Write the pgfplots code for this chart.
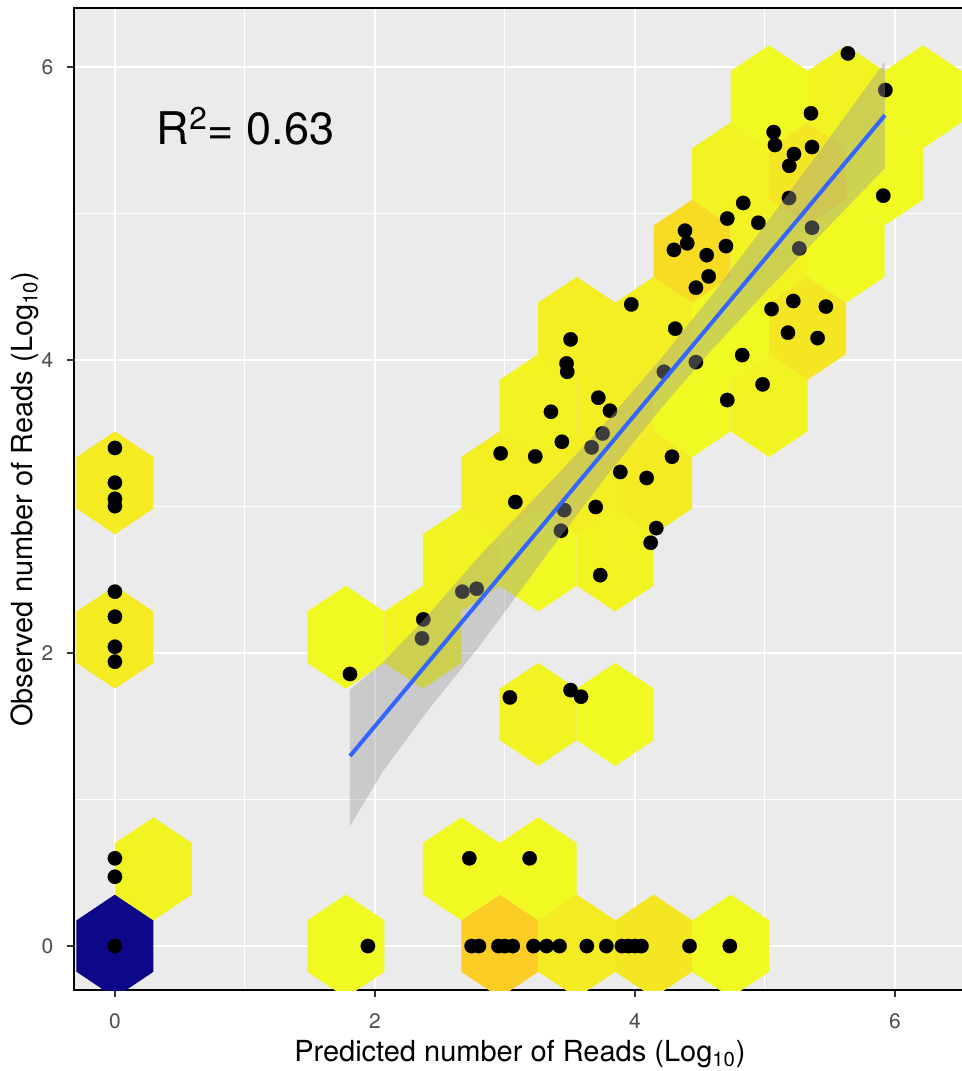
\documentclass[border=0pt]{standalone}
\usepackage{fontspec}
\setmainfont{TeX Gyre Heros}
\usepackage{pgfplots}
\pgfplotsset{compat=1.18}
\usepackage{pgfplotstable}

\definecolor{panelbg}{HTML}{EBEBEB}
\definecolor{ticktext}{HTML}{4D4D4D}
\definecolor{tickcol}{HTML}{333333}
\definecolor{smoothblue}{HTML}{3366FF}
\definecolor{bandgrey}{HTML}{999999}

% pointy-top hexagon: half width 19.24pt (0.296 x-units), vertex radius 25.73pt (0.3513 y-units)
\pgfdeclareplotmark{hexa}{%
  \pgfpathmoveto{\pgfqpoint{0pt}{25.73pt}}%
  \pgfpathlineto{\pgfqpoint{19.24pt}{12.87pt}}%
  \pgfpathlineto{\pgfqpoint{19.24pt}{-12.87pt}}%
  \pgfpathlineto{\pgfqpoint{0pt}{-25.73pt}}%
  \pgfpathlineto{\pgfqpoint{-19.24pt}{-12.87pt}}%
  \pgfpathlineto{\pgfqpoint{-19.24pt}{12.87pt}}%
  \pgfpathclose
  \pgfusepathqfill}

\newcommand\ticktxt[1]{{\fontsize{10.5}{12}\selectfont\color{ticktext}#1}}

\pgfplotstableread{
x y count
0.000 0.000 91
1.776 0.000 1
2.960 0.000 10
3.552 0.000 4
4.144 0.000 5
4.736 0.000 1
0.296 0.527 2
2.664 0.527 1
3.256 0.527 1
3.256 1.581 2
3.848 1.581 1
0.000 2.108 4
1.776 2.108 1
2.368 2.108 2
2.664 2.635 2
3.256 2.635 1
3.848 2.635 2
0.000 3.162 4
2.960 3.162 3
3.552 3.162 3
4.144 3.162 4
3.256 3.689 2
3.848 3.689 3
4.440 3.689 1
5.032 3.689 2
3.552 4.216 3
4.144 4.216 3
4.736 4.216 1
5.328 4.216 5
4.440 4.743 7
5.032 4.743 2
5.624 4.743 1
4.736 5.270 2
5.328 5.270 5
5.920 5.270 1
5.032 5.797 1
5.624 5.797 2
6.216 5.797 1
}\hexdata

\pgfplotstableread{
x y
0 0
0 0.473
0 0.599
0 1.941
0 2.043
0 2.248
0 2.419
0 3.003
0 3.053
0 3.163
0 3.400
1.946 0
2.744 0
2.800 0
2.950 0
3.000 0
3.060 0
3.220 0
3.320 0
3.420 0
3.630 0
3.780 0
3.900 0
3.950 0
4.000 0
4.050 0
4.420 0
4.730 0
2.726 0.599
3.190 0.599
3.038 1.697
3.505 1.747
3.585 1.702
1.808 1.857
2.372 2.230
2.362 2.100
2.672 2.419
2.782 2.439
3.080 3.031
2.967 3.363
3.233 3.342
3.354 3.647
3.505 4.141
3.474 3.977
3.479 3.920
3.438 3.442
3.718 3.743
3.808 3.654
3.751 3.499
3.667 3.404
3.887 3.236
4.090 3.195
4.285 3.340
3.698 2.997
3.456 2.976
3.431 2.835
4.164 2.853
4.121 2.753
3.733 2.532
3.972 4.380
4.310 4.214
4.223 3.920
4.469 3.986
4.469 4.494
4.300 4.752
4.552 4.716
4.567 4.571
5.638 6.093
5.926 5.843
5.354 5.684
5.067 5.556
5.077 5.468
5.223 5.406
5.187 5.326
5.362 5.454
5.185 5.106
5.910 5.122
5.362 4.903
5.264 4.762
4.833 5.072
4.710 4.966
4.949 4.937
4.700 4.778
4.385 4.883
4.402 4.797
5.051 4.348
5.218 4.403
5.469 4.365
5.177 4.187
5.405 4.150
4.825 4.034
4.982 3.834
4.710 3.727
}\pointdata

\begin{document}
\begin{tikzpicture}
\begin{axis}[
  name=ax,
  x=65pt, y=73.25pt,
  xmin=-0.315, xmax=6.546, ymin=-0.300, ymax=6.401,
  axis background/.style={fill=panelbg},
  xtick={0,2,4,6}, ytick={0,2,4,6},
  xticklabels={\ticktxt{0},\ticktxt{2},\ticktxt{4},\ticktxt{6}},
  yticklabels={\ticktxt{0},\ticktxt{2},\ticktxt{4},\ticktxt{6}},
  minor xtick={1,3,5}, minor ytick={1,3,5},
  grid=both,
  major grid style={white, line width=1pt},
  minor grid style={white, line width=0.5pt},
  tick align=outside, tick pos=left,
  major tick length=3.6pt, minor tick length=0pt,
  every tick/.style={tickcol, line width=0.9pt},
  axis line style={black, line width=1pt},
  xticklabel style={anchor=base, yshift=-15.4pt, inner sep=0pt},
  yticklabel style={anchor=east, xshift=-6.5pt, inner sep=0pt},
  xlabel={Predicted number of Reads (Log\textsubscript{10})},
  ylabel={Observed number of Reads (Log\textsubscript{10})},
  every axis x label/.style={at={(axis description cs:0.5,-0.0733)}, anchor=base,
    font=\fontsize{14.5}{17}\selectfont},
  every axis y label/.style={at={(axis description cs:-0.046,0.5)}, anchor=base, rotate=90,
    font=\fontsize{14.5}{17}\selectfont},
  clip marker paths=true,
  colormap={plasmarev}{rgb255=(240,249,33) rgb255=(252,206,37) rgb255=(252,166,54) rgb255=(242,132,75) rgb255=(225,100,98) rgb255=(204,71,120) rgb255=(177,42,144) rgb255=(143,13,164) rgb255=(106,0,168) rgb255=(65,4,157) rgb255=(13,8,135)},
  point meta min=1, point meta max=91,
]
\addplot[scatter, only marks, mark=hexa, point meta=explicit,
  scatter/use mapped color={fill=mapped color, draw=none}]
  table[x=x, y=y, meta=count] {\hexdata};
\addplot[only marks, mark=*, mark size=3.6pt,
  mark options={fill=black, draw=black, line width=0.1pt}]
  table[x=x, y=y] {\pointdata};
\addplot[fill=bandgrey, fill opacity=0.4, draw=none] coordinates {
  (1.808,1.750) (2.06,1.935) (2.4,2.250) (2.8,2.660) (3.0,2.845) (3.4,3.214) (3.8,3.599)
  (4.2,4.010) (4.6,4.452) (5.0,4.920) (5.4,5.401) (5.923,6.036)
  (5.923,5.310) (5.4,4.829) (5.0,4.460) (4.6,4.078) (4.2,3.670) (3.8,3.229)
  (3.4,2.764) (3.0,2.283) (2.8,2.043) (2.4,1.600) (2.06,1.190) (1.808,0.819)
} -- cycle;
\addplot[smoothblue, line width=2pt] coordinates {(1.808,1.297) (5.923,5.671)};
\node[anchor=base, font=\fontsize{22.5}{26}\selectfont] at (axis cs:1.004,5.474) {R\textsuperscript{2}= 0.63};
\end{axis}
\pgfresetboundingbox
\useasboundingbox ([xshift=-37pt,yshift=-40.5pt]ax.south west) rectangle ([xshift=444pt,yshift=495pt]ax.south west);
\end{tikzpicture}
\end{document}
